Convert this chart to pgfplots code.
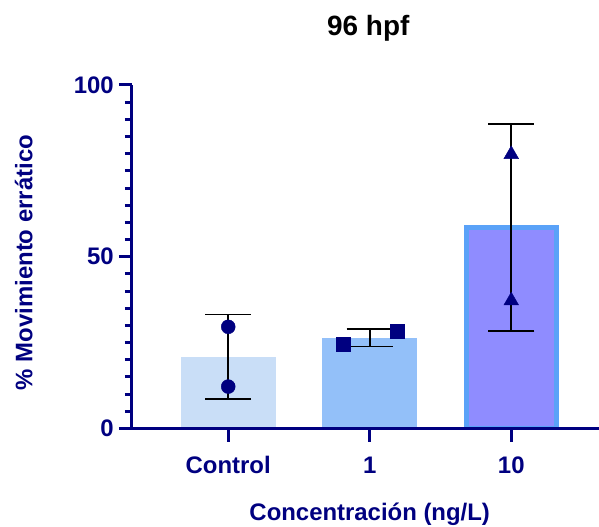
\documentclass[border=0pt]{standalone}
\usepackage{pgfplots}
\pgfplotsset{compat=1.18}
\usepackage{fontspec}
\setmainfont{Liberation Sans}
\definecolor{navy}{RGB}{0,0,128}
\definecolor{barA}{HTML}{C9DEF7}
\definecolor{barB}{HTML}{93C0F9}
\definecolor{barC}{HTML}{8F8CFF}
\definecolor{barCedge}{HTML}{5AA2F8}
\begin{document}
\begin{tikzpicture}
\begin{axis}[name=ax, scale only axis, width=467bp, height=343.5bp,
  xmin=-0.68, xmax=2.62, ymin=0, ymax=100,
  axis lines=left, axis line style={-, navy, line width=3bp},
  axis on top,
  xtick={0,1,2}, xticklabels={Control,1,10},
  ytick={0,50,100}, yticklabels={0,50,100},
  minor ytick={5,10,...,45,55,60,...,95},
  tick align=outside, tick style={navy, line width=3bp},
  major tick length=13bp, minor tick length=7bp,
  ticklabel style={font=\fontsize{24}{24}\selectfont\bfseries, text=navy},
  yticklabel style={anchor=east, inner sep=0pt, xshift=-5bp},
  xticklabel style={anchor=base, inner sep=0pt, yshift=-32bp},
  title={96 hpf},
  title style={font=\fontsize{28}{28}\selectfont\bfseries, text=black, at={(axis description cs:0.506,1.128)}, anchor=base, inner sep=0pt},
  xlabel={Concentración (ng/L)},
  xlabel style={font=\fontsize{24}{24}\selectfont\bfseries, text=navy, at={(axis description cs:0.509,-0.269)}, anchor=base, inner sep=0pt},
  ylabel={\% Movimiento errático},
  ylabel style={font=\fontsize{24}{24}\selectfont\bfseries, text=navy, at={(axis description cs:-0.2131,0.483)}, anchor=base, rotate=0, inner sep=0pt},
]
% bars (means)
\addplot[ybar, bar shift=0pt, bar width=95bp, fill=barA, draw=none] coordinates {(0,20.9)};
\addplot[ybar, bar shift=0pt, bar width=95bp, fill=barB, draw=none] coordinates {(1,26.45)};
\addplot[ybar, bar shift=0pt, bar width=90bp, fill=barC, draw=barCedge, line width=5bp] coordinates {(2,58.5)};
% error bars (mean +- SD)
\addplot[draw=none, mark=none, error bars/.cd, y dir=both, y explicit,
  error mark=|,
  error bar style={black, line width=1.6bp},
  error mark options={black, line width=1.6bp, mark size=23bp}]
  coordinates {(0,20.9) +- (0,12.3) (1,26.45) +- (0,2.55) (2,58.5) +- (0,30.1)};
% individual points
\addplot[only marks, mark=*, mark size=7bp, navy, mark options={fill=navy, draw=navy}] coordinates {(0,29.6) (0,12.2)};
\addplot[only marks, mark=square*, mark size=7bp, navy, mark options={fill=navy, draw=navy}] coordinates {(0.812,24.66) (1.193,28.24)};
\addplot[only marks, mark=triangle*, mark size=8.5bp, navy, mark options={fill=navy, draw=navy}] coordinates {(2,79.8) (2,37.2)};
\end{axis}
\pgfresetboundingbox
\path ([xshift=-132bp, yshift=-98.5bp]ax.south west) rectangle ([yshift=85bp]ax.north east);
\end{tikzpicture}
\end{document}
